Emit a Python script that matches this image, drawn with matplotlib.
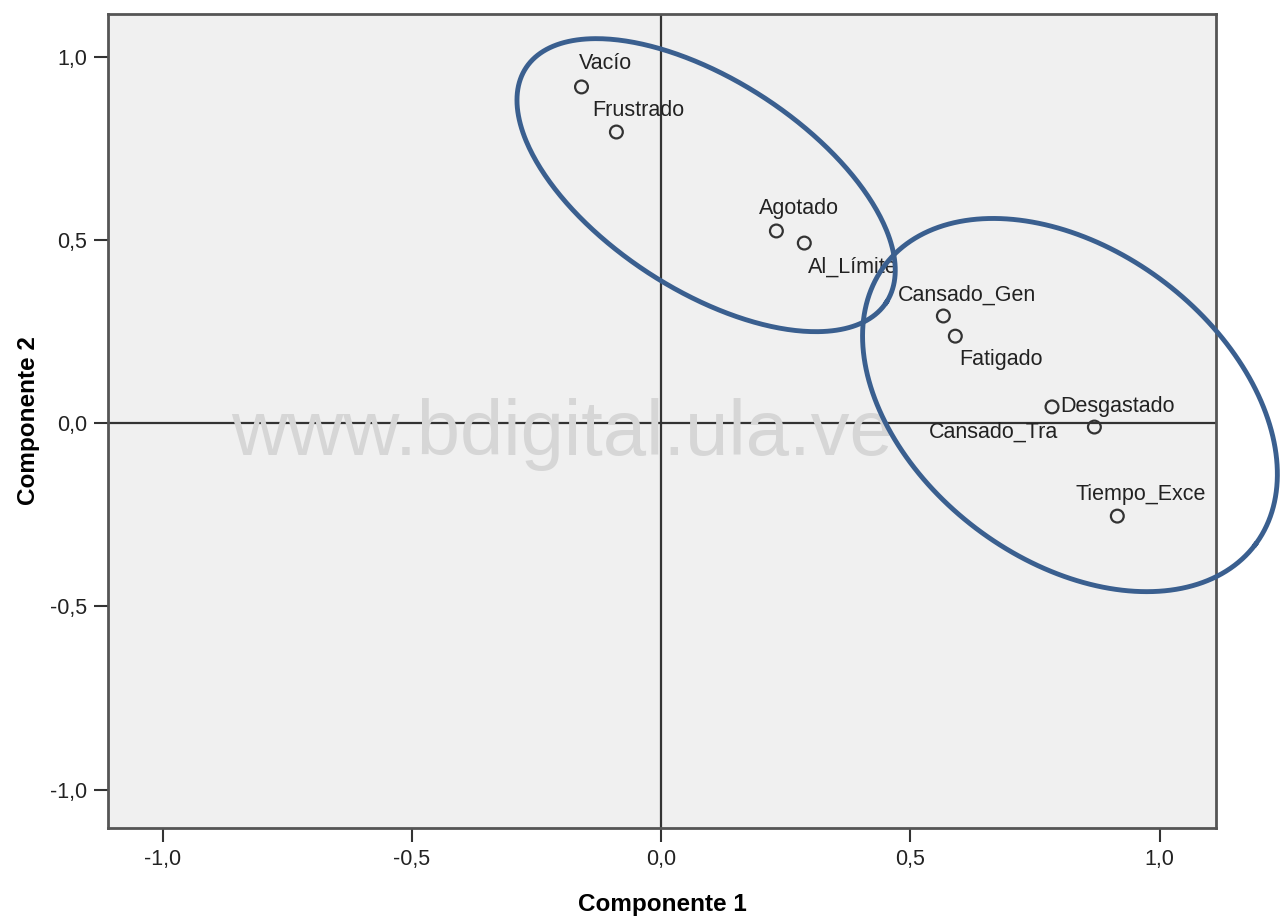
import numpy as np
import matplotlib
matplotlib.use("Agg")
import matplotlib.pyplot as plt

plt.rcParams['font.family'] = ['Liberation Sans', 'DejaVu Sans']

# cargas de las variables en los dos componentes
variables = ['Vacío', 'Frustrado', 'Agotado', 'Al_Límite', 'Cansado_Gen',
             'Fatigado', 'Desgastado', 'Cansado_Tra', 'Tiempo_Exce']
comp1 = [-0.160, -0.090, 0.231, 0.287, 0.566, 0.590, 0.784, 0.869, 0.915]
comp2 = [0.917, 0.794, 0.524, 0.491, 0.292, 0.237, 0.044, -0.011, -0.254]

ticks = [-1.0, -0.5, 0.0, 0.5, 1.0]
tick_labels = ['-1,0', '-0,5', '0,0', '0,5', '1,0']

# desplazamiento del centro de cada etiqueta (pixeles)
offsets = {
    'Vacío': (24, 23),
    'Frustrado': (22, 22),
    'Agotado': (23, 22),
    'Al_Límite': (48, -24),
    'Cansado_Gen': (24, 21),
    'Fatigado': (46, -23),
    'Desgastado': (65, 0),
    'Cansado_Tra': (-101, -5),
    'Tiempo_Exce': (23, 22),
}

fig = plt.figure(figsize=(12.8, 9.18), dpi=100)
ax = fig.add_axes([108 / 1280, 1 - 828 / 918, (1216 - 108) / 1280, (828 - 14) / 918])
ax.set_facecolor('#f0f0f0')
ax.set_xlim(-1.11, 1.113)
ax.set_ylim(-1.105, 1.116)

ax.axhline(0, color='#333333', lw=1.6, zorder=1)
ax.axvline(0, color='#333333', lw=1.6, zorder=1)

ax.scatter(comp1, comp2, s=85, facecolors='none', edgecolors='#333333',
           linewidths=1.6, zorder=3)

for name, x, y in zip(variables, comp1, comp2):
    dx, dy = offsets[name]
    ax.annotate(name, (x, y), xytext=(dx, dy), textcoords='offset pixels',
                ha='center', va='center', fontsize=15.5, color='#222222', zorder=4)

ax.text(0.41, 0.483, 'www.bdigital.ula.ve', transform=ax.transAxes,
        ha='center', va='center', fontsize=56, color='#d6d6d6', zorder=2)

# elipses que agrupan las variables (definidas en pixeles)
sx = 498.5
sy = 366.5
t = np.linspace(0, 2 * np.pi, 400)
for cx, cy, a, b, ang in [(0.090, 0.649, 215, 105, 33), (0.820, 0.049, 232, 155, 37)]:
    th = np.deg2rad(ang)
    ex = cx + (a * np.cos(t) * np.cos(th) - b * np.sin(t) * np.sin(th)) / sx
    ey = cy - (a * np.cos(t) * np.sin(th) + b * np.sin(t) * np.cos(th)) / sy
    ax.plot(ex, ey, color='#3a5f8f', lw=3.5, clip_on=False, zorder=5)

ax.set_xticks(ticks)
ax.set_xticklabels(tick_labels)
ax.set_yticks(ticks)
ax.set_yticklabels(tick_labels)
ax.tick_params(direction='out', length=10, width=1.5, color='#333333',
               labelsize=15.5, labelcolor='#222222', pad=5)
for sp in ax.spines.values():
    sp.set_color('#555555')
    sp.set_linewidth(2)

ax.set_xlabel('Componente 1', fontsize=17.5, fontweight='bold', labelpad=17)
ax.set_ylabel('Componente 2', fontsize=17.5, fontweight='bold', labelpad=7)

fig.savefig('out.png', dpi=100)
